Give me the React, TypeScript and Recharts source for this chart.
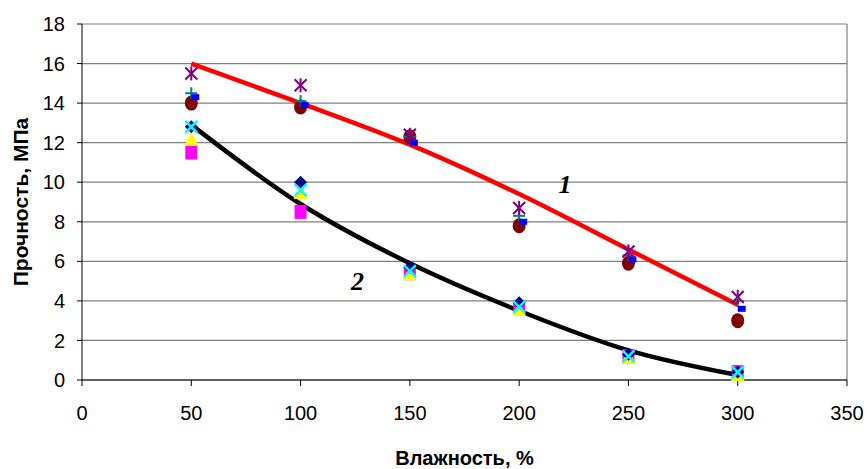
import React from "react";
import {
  ComposedChart,
  Scatter,
  Line,
  XAxis,
  YAxis,
  CartesianGrid,
  ReferenceLine,
  ReferenceDot,
  Label,
} from "recharts";

// moisture, %
const moisture = [50, 100, 150, 200, 250, 300];

// group 1 (upper)
const s1Star = [15.5, 14.9, 12.4, 8.7, 6.5, 4.2];
const s1Plus = [14.5, 14.1, 12.3, 8.3, 6.3, 4.0];
const s1Dash = [14.3, 13.9, 12.0, 8.0, 6.1, 3.6];
const s1Circle = [14.0, 13.8, 12.3, 7.8, 5.9, 3.0];

// group 2 (lower)
const s2Diamond = [12.8, 10.0, 5.7, 3.9, 1.3, 0.4];
const s2Cross = [12.8, 9.6, 5.5, 3.7, 1.2, 0.4];
const s2Triangle = [12.2, 9.5, 5.4, 3.6, 1.2, 0.3];
const s2Square = [11.5, 8.5, 5.4, 3.7, 1.2, 0.4];

// trend lines
const trend1 = [16.0, 14.0, 11.9, 9.4, 6.6, 3.8];
const trend2 = [12.9, 8.9, 5.9, 3.5, 1.5, 0.25];

const xTicks = [0, 50, 100, 150, 200, 250, 300, 350];
const yTicks = [0, 2, 4, 6, 8, 10, 12, 14, 16, 18];

const label1 = { x: 221, y: 9.9, text: "1" };
const label2 = { x: 126, y: 5.0, text: "2" };

const toPoints = (ys: number[]) => moisture.map((x, i) => ({ x, y: ys[i] }));

const FONT = "'Liberation Sans', Arial, sans-serif";

const StarShape = (p: any) => {
  const { cx, cy } = p;
  const r = 6;
  return (
    <g stroke="#800080" strokeWidth={2}>
      <line x1={cx - r} y1={cy - r} x2={cx + r} y2={cy + r} />
      <line x1={cx - r} y1={cy + r} x2={cx + r} y2={cy - r} />
      <line x1={cx} y1={cy - r - 1} x2={cx} y2={cy + r + 1} />
    </g>
  );
};

const PlusShape = (p: any) => {
  const { cx, cy } = p;
  const r = 6;
  return (
    <g stroke="#008080" strokeWidth={2}>
      <line x1={cx - r} y1={cy} x2={cx + r} y2={cy} />
      <line x1={cx} y1={cy - r} x2={cx} y2={cy + r} />
    </g>
  );
};

const DashShape = (p: any) => {
  const { cx, cy } = p;
  return <rect x={cx} y={cy - 3} width={8} height={6} fill="#0000FF" />;
};

const CircleShape = (p: any) => {
  const { cx, cy } = p;
  return <ellipse cx={cx} cy={cy} rx={6.5} ry={7.5} fill="#800000" />;
};

const DiamondShape = (p: any) => {
  const { cx, cy } = p;
  const r = 6.5;
  return (
    <polygon
      points={`${cx},${cy - r} ${cx + r},${cy} ${cx},${cy + r} ${cx - r},${cy}`}
      fill="#000080"
    />
  );
};

const CrossShape = (p: any) => {
  const { cx, cy } = p;
  const r = 6;
  return (
    <g stroke="#00FFFF" strokeWidth={2.5}>
      <line x1={cx - r} y1={cy - r} x2={cx + r} y2={cy + r} />
      <line x1={cx - r} y1={cy + r} x2={cx + r} y2={cy - r} />
    </g>
  );
};

const TriangleShape = (p: any) => {
  const { cx, cy } = p;
  const r = 7;
  return (
    <polygon
      points={`${cx},${cy - r} ${cx + r},${cy + r} ${cx - r},${cy + r}`}
      fill="#FFFF00"
    />
  );
};

const SquareShape = (p: any) => {
  const { cx, cy } = p;
  return <rect x={cx - 6} y={cy - 7} width={12} height={14} fill="#FF00FF" />;
};

const numberLabel = (text: string) => (p: any) => (
  <text
    x={p.cx}
    y={p.cy}
    textAnchor="middle"
    dominantBaseline="central"
    fontFamily="'Liberation Serif', 'Times New Roman', serif"
    fontStyle="italic"
    fontWeight="bold"
    fontSize={26}
    fill="#000"
  >
    {text}
  </text>
);

const XTitle = (props: any) => {
  const vb = props.viewBox;
  const cx = vb.x + vb.width / 2;
  return (
    <text
      x={cx}
      y={465}
      textAnchor="middle"
      fontFamily={FONT}
      fontWeight="bold"
      fontSize={20}
      fill="#000"
    >
      Влажность, %
    </text>
  );
};

const YTitle = (props: any) => {
  const vb = props.viewBox;
  const cy = vb.y + vb.height / 2;
  const x = 28;
  return (
    <text
      x={x}
      y={cy}
      transform={`rotate(-90, ${x}, ${cy})`}
      textAnchor="middle"
      fontFamily={FONT}
      fontWeight="bold"
      fontSize={21}
      fill="#000"
    >
      Прочность, МПа
    </text>
  );
};

export default function App() {
  return (
    <div style={{ position: "fixed", left: 0, top: 0, width: 867, height: 469, background: "#fff" }}>
      <ComposedChart
        width={867}
        height={469}
        margin={{ top: 24, right: 20, bottom: 17, left: 22 }}
      >
        <CartesianGrid horizontal vertical={false} stroke="#808080" strokeWidth={1.2} />
        <XAxis
          type="number"
          dataKey="x"
          domain={[0, 350]}
          ticks={xTicks}
          interval={0}
          allowDataOverflow
          stroke="#000"
          tickSize={6}
          tick={{ fill: "#000", fontSize: 20, fontFamily: FONT }}
          tickMargin={20}
          height={72}
        >
          <Label content={XTitle} />
        </XAxis>
        <YAxis
          type="number"
          dataKey="y"
          domain={[0, 18]}
          ticks={yTicks}
          interval={0}
          stroke="#000"
          tickSize={5}
          tick={{ fill: "#000", fontSize: 20, fontFamily: FONT }}
          tickMargin={12}
          width={60}
        >
          <Label content={YTitle} />
        </YAxis>
        <ReferenceLine x={350} stroke="#808080" strokeWidth={1.2} />

        <Scatter data={toPoints(s2Square)} dataKey="y" shape={SquareShape} isAnimationActive={false} />
        <Scatter data={toPoints(s2Triangle)} dataKey="y" shape={TriangleShape} isAnimationActive={false} />
        <Scatter data={toPoints(s2Diamond)} dataKey="y" shape={DiamondShape} isAnimationActive={false} />
        <Scatter data={toPoints(s2Cross)} dataKey="y" shape={CrossShape} isAnimationActive={false} />

        <Scatter data={toPoints(s1Circle)} dataKey="y" shape={CircleShape} isAnimationActive={false} />
        <Scatter data={toPoints(s1Plus)} dataKey="y" shape={PlusShape} isAnimationActive={false} />
        <Scatter data={toPoints(s1Dash)} dataKey="y" shape={DashShape} isAnimationActive={false} />
        <Scatter data={toPoints(s1Star)} dataKey="y" shape={StarShape} isAnimationActive={false} />

        <Line
          data={toPoints(trend1)}
          dataKey="y"
          type="monotone"
          stroke="#FF0000"
          strokeWidth={4.5}
          dot={false}
          activeDot={false}
          isAnimationActive={false}
        />
        <Line
          data={toPoints(trend2)}
          dataKey="y"
          type="monotone"
          stroke="#000"
          strokeWidth={4.5}
          dot={false}
          activeDot={false}
          isAnimationActive={false}
        />

        <ReferenceDot x={label1.x} y={label1.y} r={0} shape={numberLabel(label1.text)} />
        <ReferenceDot x={label2.x} y={label2.y} r={0} shape={numberLabel(label2.text)} />
      </ComposedChart>
    </div>
  );
}
